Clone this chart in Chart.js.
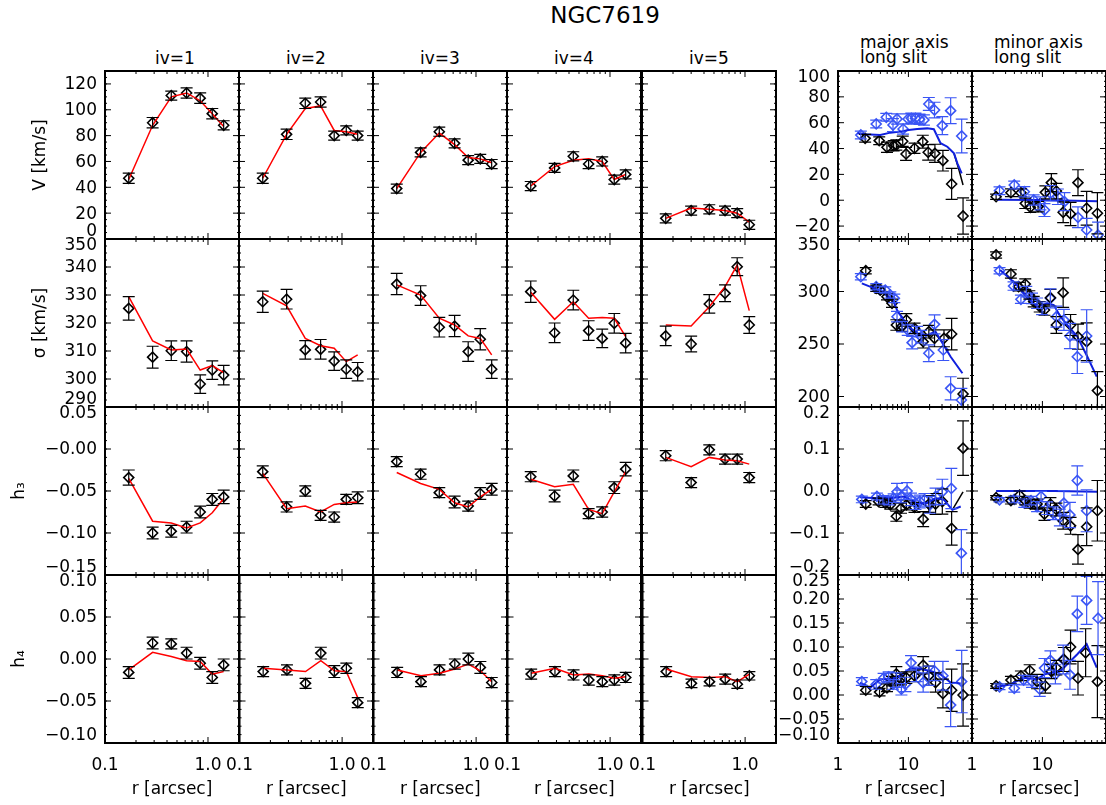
<!DOCTYPE html>
<html lang="en">
<head>
<meta charset="UTF-8">
<title>NGC7619</title>
<script src="https://cdn.jsdelivr.net/npm/chart.js"></script>
<style>
  body { margin: 0; background: #fff; }
  #fig { position: relative; width: 1106px; height: 805px; overflow: hidden;
         font-family: 'DejaVu Sans', sans-serif; color: #000; }
  #fig canvas { position: absolute; }
  .lbl { position: absolute; font-size: 17px; line-height: 17px; white-space: nowrap; }
  .ctr { text-align: center; width: 134px; }
</style>
</head>
<body>
<div id="fig">
  <div class="lbl" style="left:505px; width:200px; top:4px; font-size:23px; line-height:23px; text-align:center;">NGC7619</div>
  <div class="lbl ctr" style="left:108px; top:50px;">iv=1</div>
  <div class="lbl ctr" style="left:239px; top:50px;">iv=2</div>
  <div class="lbl ctr" style="left:373px; top:50px;">iv=3</div>
  <div class="lbl ctr" style="left:507px; top:50px;">iv=4</div>
  <div class="lbl ctr" style="left:642px; top:50px;">iv=5</div>
  <div class="lbl" style="left:860px; top:35px; line-height:15px;">major axis<br>long slit</div>
  <div class="lbl" style="left:994px; top:35px; line-height:15px;">minor axis<br>long slit</div>
</div>

<script>
// ---- integral-field bins (iv=1..5) ----
const rIv = [0.17, 0.29, 0.44, 0.62, 0.84, 1.10, 1.42];
const rIv5 = [0.17, 0.30, 0.45, 0.64, 0.84, 1.10];

const vIvObs = [
  [47, 90, 111, 113, 109, 97, 88],
  [47, 81, 105, 106, 80, 84, 80],
  [39, 67, 83, 74, 61, 62, 58],
  [41, 55, 64, 58, 60, 46, 50],
  [16, 22, 23, 22, 20, 11]
];
const vIvMod = [
  [46, 88, 110, 113, 107, 97, 87],
  [47, 81, 101, 103, 84, 83, 81],
  [39, 67, 82, 73, 63, 62, 59],
  [41, 56, 61, 62, 60, 46, 50],
  [16, 24, 23, 22, 20, 13]
];
const vIvErr = [
  [4, 4, 3.5, 4, 4, 4, 3.5],
  [4, 4, 4, 4, 3.5, 3.5, 3.5],
  [3.5, 3.5, 3.5, 3.5, 3.5, 3.5, 3.5],
  [3.5, 3.5, 3.5, 3.5, 3.5, 3.5, 3.5],
  [3.5, 3.5, 3.5, 3.5, 3.5, 3.5]
];

const sIvObs = [
  [325.2, 307.8, 310.1, 309.8, 298.2, 303.2, 301.4],
  [327.6, 328.5, 310.4, 310.6, 306.4, 303.5, 302.6],
  [333.9, 329.8, 318.5, 318.9, 309.8, 314.2, 303.5],
  [331.2, 316.5, 328.2, 317.3, 314.5, 319.9, 312.8],
  [315.4, 312.5, 326.8, 330.6, 340.1, 319.3]
];
const sIvMod = [
  [329.4, 313.6, 310.4, 310.7, 303.2, 304.8, 302.3],
  [330.6, 326.1, 314.5, 311.9, 311.0, 306.2, 308.6],
  [333.6, 330.0, 321.7, 319.3, 315.4, 314.5, 308.6],
  [331.0, 321.3, 327.6, 321.7, 322.0, 321.7, 315.1],
  [319.3, 318.9, 325.8, 333.0, 340.7, 324.4]
];
const sIvErr = [
  [4.2, 3.9, 3.5, 3.8, 3.3, 3.3, 3.5],
  [3.8, 3.5, 3.3, 3.5, 3.3, 3.3, 3.3],
  [3.8, 3.5, 3.5, 3.8, 3.5, 3.8, 3.3],
  [3.8, 3.5, 3.5, 3.5, 3.3, 3.5, 3.5],
  [3.5, 2.8, 3.3, 3.0, 3.2, 3.0]
];

const h3IvObs = [
  [-0.034, -0.100, -0.098, -0.093, -0.075, -0.060, -0.057],
  [-0.027, -0.069, -0.050, -0.079, -0.081, -0.060, -0.058],
  [-0.015, -0.030, -0.052, -0.063, -0.068, -0.053, -0.048],
  [-0.033, -0.056, -0.032, -0.077, -0.075, -0.046, -0.024],
  [-0.008, -0.040, -0.001, -0.012, -0.012, -0.034]
];
const h3IvMod = [
  [-0.035, -0.086, -0.088, -0.094, -0.088, -0.076, -0.059],
  [-0.029, -0.071, -0.068, -0.075, -0.066, -0.064, -0.063],
  [-0.028, -0.041, -0.048, -0.064, -0.069, -0.057, -0.048],
  [-0.036, -0.045, -0.042, -0.072, -0.077, -0.051, -0.027],
  [-0.010, -0.021, -0.010, -0.013, -0.014, -0.018]
];
const h3IvErr = [
  [0.009, 0.007, 0.007, 0.007, 0.007, 0.007, 0.008],
  [0.007, 0.006, 0.006, 0.006, 0.006, 0.006, 0.007],
  [0.006, 0.006, 0.006, 0.007, 0.006, 0.007, 0.007],
  [0.006, 0.007, 0.007, 0.006, 0.006, 0.007, 0.008],
  [0.006, 0.006, 0.006, 0.006, 0.006, 0.006]
];

const h4IvObs = [
  [-0.016, 0.019, 0.018, 0.007, -0.005, -0.022, -0.007],
  [-0.015, -0.013, -0.029, 0.007, -0.015, -0.011, -0.052],
  [-0.016, -0.027, -0.013, -0.006, 0.000, -0.010, -0.028],
  [-0.018, -0.015, -0.019, -0.025, -0.027, -0.025, -0.022],
  [-0.015, -0.029, -0.027, -0.024, -0.030, -0.020]
];
const h4IvMod = [
  [-0.013, 0.008, 0.003, -0.002, -0.003, -0.018, -0.015],
  [-0.011, -0.013, -0.015, -0.002, -0.014, -0.015, -0.046],
  [-0.013, -0.020, -0.017, -0.012, -0.006, -0.014, -0.027],
  [-0.017, -0.011, -0.019, -0.018, -0.020, -0.023, -0.021],
  [-0.012, -0.021, -0.022, -0.021, -0.027, -0.018]
];
const h4IvErr = [
  [0.007, 0.007, 0.006, 0.007, 0.007, 0.007, 0.007],
  [0.006, 0.006, 0.006, 0.007, 0.007, 0.006, 0.006],
  [0.006, 0.006, 0.006, 0.006, 0.007, 0.007, 0.006],
  [0.006, 0.006, 0.006, 0.006, 0.006, 0.006, 0.006],
  [0.006, 0.005, 0.005, 0.006, 0.005, 0.005]
];

// ---- long slit data: [r, value, error] ; black = one side, blue = other side ----
const majV_black = [[2.43,47.9,3],[3.85,46.1,3],[4.96,41.0,4],[6.17,42.2,4],[6.74,42.7,4],[8.3,45.6,4],[9.26,35.8,5],[12.2,40.2,4],[16.0,45.3,5],[19.1,37.1,6],[23.8,36.3,7],[30.9,30.6,8],[41.1,12.6,12],[59.7,-12.2,14]];
const majV_blue = [[2.11,50.5,3],[3.49,59.0,3],[4.85,64.2,3],[6.04,58.2,5],[6.89,62.9,4],[8.4,55.1,4],[9.9,62.9,4],[11.0,63.4,4],[12.6,63.4,4],[14.4,62.6,4],[16.6,62.1,4],[19.5,74.5,5],[23.5,69.8,6],[30.3,57.7,7],[39.8,69.3,10],[57.1,49.7,13]];
const majV_model = [[1.89,51.8],[2.43,51.0],[3.98,50.5],[5.53,52.3],[7.69,53.1],[10.1,54.3],[13.3,55.1],[18.5,55.6],[23.0,54.9],[28.6,44.1],[35.7,41.4],[44.4,36.3],[49.6,28.6],[57.1,20.8]];
const majV_modelK = [[44.4,36.3],[52.3,23.4],[59.7,11.8]];

const minV_black = [[2.2,2.7,2],[3.57,5.8,3],[4.95,5.8,3],[5.71,-2.4,4],[6.74,-5.5,4],[8.67,-5.0,4],[11.0,6.1,5],[13.4,13.6,7],[15.8,7.1,6],[19.7,-9.3,8],[25.1,-10.6,9],[32.0,13.6,10],[42.5,-6.2,13],[60.4,-10.1,16]];
const minV_blue = [[2.46,7.4,3],[3.98,11.8,3],[5.53,6.6,4],[7.52,0.2,4],[9.36,-2.4,5],[10.7,-7.6,5],[13.0,5.4,6],[16.6,2.7,6],[20.6,-1.1,7],[32.0,-13.2,8],[42.5,-23.0,9],[61.7,-27.0,10]];
const minV_model = [[2.3,0.3],[9.0,0.2],[20.0,-0.2],[60.4,-0.8]];

const majS_black = [[2.48,319.8,3],[3.49,303.0,3],[3.98,301.4,3],[4.96,295.0,3],[5.85,288.8,4],[6.74,268.1,5],[8.13,267.1,5],[9.36,272.9,6],[12.2,264.9,5],[16.2,252.2,6],[19.5,261.7,6],[23.5,255.4,8],[32.0,255.4,8],[41.1,259.5,15],[59.7,202.4,15]];
const majS_blue = [[2.11,314.1,3],[3.49,304.6,3],[3.89,302.1,3],[4.69,301.4,3],[5.53,296.7,3],[6.31,293.5,4],[6.89,276.0,5],[8.13,266.5,5],[9.78,263.3,5],[11.3,251.3,6],[13.3,261.7,5],[15.2,257.0,6],[19.5,241.2,8],[23.5,268.7,9],[31.3,244.3,10],[39.8,207.8,11],[56.5,196.7,11]];
const majS_model = [[2.18,307.8],[3.57,302.1],[4.69,298.3],[6.17,290.3],[6.89,282.4],[8.57,272.9],[10.7,264.9],[14.8,258.6],[18.5,258.6],[24.3,261.7],[28.6,253.8],[39.8,237.9],[58.5,222.1]];

const minS_black = [[2.2,334.8,3],[3.57,316.7,4],[4.59,304.6,4],[5.71,307.1,5],[6.52,296.7,4],[7.52,290.3,5],[9.16,285.5,5],[10.7,282.4,5],[13.0,294.1,8],[15.8,268.1,8],[19.7,298.9,14],[25.1,268.1,10],[32.0,257.0,12],[42.5,252.2,18],[60.4,205.6,18]];
const minS_blue = [[2.46,319.8,3],[3.89,305.2,4],[4.95,292.6,4],[5.9,299.8,5],[7.12,293.5,5],[8.4,288.8,5],[9.9,284.0,6],[13.0,293.5,9],[15.8,276.0,10],[20.2,272.9,10],[24.6,257.6,12],[31.3,237.9,16],[42.5,257.6,25]];
const minS_model = [[2.51,320.5],[4.35,306.2],[6.04,295.0],[8.4,285.5],[11.7,288.8],[14.5,287.1],[18.1,276.0],[22.5,268.1],[31.3,257.0],[43.5,237.9],[59.1,218.9]];

const majH3_black = [[2.48,-0.031,0.008],[3.77,-0.025,0.008],[4.69,-0.029,0.01],[5.53,-0.033,0.01],[6.74,-0.060,0.012],[7.85,-0.041,0.012],[9.36,-0.033,0.012],[12.2,-0.039,0.012],[16.2,-0.067,0.018],[19.5,-0.031,0.02],[24.3,-0.031,0.025],[30.3,-0.025,0.03],[41.1,-0.089,0.04],[59.7,0.102,0.065]];
const majH3_blue = [[2.18,-0.020,0.008],[3.57,-0.013,0.008],[4.35,-0.021,0.01],[5.24,-0.023,0.01],[6.17,-0.017,0.01],[6.89,-0.002,0.02],[7.85,-0.013,0.015],[9.57,0.000,0.02],[10.9,-0.020,0.015],[12.6,-0.029,0.015],[14.5,-0.025,0.015],[16.9,-0.021,0.015],[20.2,-0.033,0.02],[24.3,-0.013,0.02],[30.3,-0.002,0.03],[40.7,0.006,0.048],[56.5,-0.148,0.056]];
const majH3_model = [[2.06,-0.015],[3.57,-0.017],[5.53,-0.017],[8.57,-0.013],[13.3,-0.029],[18.5,-0.029],[24.3,-0.017],[32.0,-0.021],[42.1,-0.045],[55.3,-0.037]];
const majH3_modelK = [[42.1,-0.045],[59.7,-0.002]];

const minH3_black = [[2.2,-0.016,0.005],[3.57,-0.023,0.008],[4.74,-0.010,0.01],[5.71,-0.023,0.01],[6.74,-0.031,0.01],[8.4,-0.031,0.012],[10.7,-0.055,0.015],[13.0,-0.031,0.015],[15.8,-0.044,0.015],[19.7,-0.071,0.02],[25.1,-0.083,0.02],[32.0,-0.139,0.035],[42.5,-0.085,0.045],[60.4,-0.047,0.072]];
const minH3_blue = [[2.46,-0.021,0.005],[3.98,-0.020,0.008],[5.53,-0.029,0.01],[6.89,-0.023,0.01],[8.4,-0.037,0.012],[9.57,-0.013,0.012],[11.7,-0.041,0.015],[14.2,-0.053,0.015],[17.7,-0.063,0.02],[20.2,-0.029,0.03],[24.6,-0.057,0.03],[31.3,0.025,0.035],[42.5,-0.047,0.05]];
const minH3_model = [[2.2,0.000],[15.0,0.000],[60.4,-0.002]];

const majH4_black = [[2.48,0.010,0.008],[3.89,0.006,0.008],[4.96,0.015,0.008],[5.85,0.029,0.01],[6.74,0.044,0.015],[7.85,0.033,0.012],[9.36,0.036,0.012],[12.2,0.040,0.012],[16.2,0.062,0.018],[19.5,0.040,0.02],[24.3,0.026,0.02],[30.9,0.003,0.03],[41.1,0.010,0.044],[59.7,0.000,0.065]];
const majH4_blue = [[2.18,0.028,0.008],[3.49,0.022,0.01],[4.44,0.035,0.01],[5.24,0.038,0.01],[6.04,0.022,0.01],[6.74,0.031,0.015],[7.95,0.012,0.012],[9.06,0.022,0.015],[10.9,0.067,0.015],[13.0,0.043,0.015],[16.2,0.026,0.02],[19.5,0.040,0.02],[23.5,0.050,0.02],[30.9,0.040,0.03],[39.8,-0.021,0.045],[57.1,0.028,0.065]];
const majH4_model = [[2.06,0.026],[2.86,0.015],[3.98,0.033],[5.53,0.033],[7.69,0.040],[10.7,0.056],[14.8,0.054],[20.6,0.050],[28.6,0.043],[39.8,0.026],[55.3,0.024]];

const minH4_black = [[2.2,0.019,0.005],[3.57,0.031,0.008],[4.95,0.040,0.01],[6.59,0.051,0.012],[8.4,0.028,0.015],[11.0,0.019,0.015],[13.4,0.049,0.015],[15.8,0.057,0.015],[20.2,0.074,0.025],[25.1,0.100,0.035],[32.0,0.035,0.035],[41.1,0.088,0.05],[60.4,0.028,0.075]];
const minH4_blue = [[2.46,0.017,0.006],[3.98,0.014,0.008],[5.41,0.031,0.01],[7.12,0.028,0.012],[9.16,0.012,0.015],[10.7,0.056,0.02],[13.0,0.072,0.02],[15.3,0.043,0.02],[19.7,0.074,0.03],[24.6,0.042,0.03],[31.3,0.169,0.037],[42.5,0.197,0.05],[61.7,0.160,0.076]];
const minH4_model = [[2.25,0.017],[3.49,0.022],[5.41,0.036],[8.4,0.033],[10.7,0.043],[13.0,0.046],[18.1,0.050],[22.5,0.064],[31.3,0.085],[42.5,0.106],[59.1,0.057]];

// ---- axes ----
const yTitles = ['V [km/s]', 'σ [km/s]', 'h₃', 'h₄'];
const yRangeIv = [[0, 130], [290, 350], [-0.15, 0.05], [-0.10, 0.10]];
const yTicksIv = [[0, 20, 40, 60, 80, 100, 120], [290, 300, 310, 320, 330, 340, 350], [-0.15, -0.10, -0.05, 0, 0.05], [-0.10, -0.05, 0, 0.05, 0.10]];
const yLabelsIv = [['0', '20', '40', '60', '80', '100', '120'], ['290', '300', '310', '320', '330', '340', '350'],
                   ['−0.15', '−0.10', '−0.05', '−0.00', '0.05'], ['−0.10', '−0.05', '0.00', '0.05', '0.10']];
const yRangeLs = [[-30, 100], [190, 350], [-0.2, 0.2], [-0.10, 0.25]];
const yTicksLs = [[-20, 0, 20, 40, 60, 80, 100], [200, 250, 300, 350], [-0.2, -0.1, 0, 0.1, 0.2], [-0.10, -0.05, 0, 0.05, 0.10, 0.15, 0.20, 0.25]];
const yLabelsLs = [['−20', '0', '20', '40', '60', '80', '100'], ['200', '250', '300', '350'], ['−0.2', '−0.1', '0.0', '0.1', '0.2'],
                   ['−0.10', '−0.05', '0.00', '0.05', '0.10', '0.15', '0.20', '0.25']];
const xRangeIv = [0.1, 2.0];
const xTicksIv = [0.1, 1.0];
const xLabelsIv = ['0.1', '1.0'];
const xMinorIv = [0.2, 0.3, 0.4, 0.5, 0.6, 0.7, 0.8, 0.9, 2.0];
const xRangeLs = [1, 80];
const xTicksLs = [1, 10];
const xLabelsLs = ['1', '10'];
const xMinorLs = [2, 3, 4, 5, 6, 7, 8, 9, 20, 30, 40, 50, 60, 70, 80];

// panel grid
const colX = [105, 239, 373, 507, 642, 838, 972];
const rowY = [71, 239, 407, 575];
const PW = 134, PH = 168;

const RED = '#ff0000', BLK = '#000000', BLUE_PT = '#3a55f5', BLUE_LN = '#1020dd';
const FONT = "17px 'DejaVu Sans', sans-serif";

Chart.defaults.font.family = "'DejaVu Sans', sans-serif";
Chart.defaults.font.size = 17;
Chart.defaults.color = '#000';

const fig = document.getElementById('fig');

// inward ticks on all four sides plus the box, like the IDL plots
function frameTicks(xMaj, xMin, yMaj, ySub, yLab) {
  return {
    id: 'frameTicks',
    afterDraw(chart) {
      const { ctx, chartArea: a, scales: { x, y } } = chart;
      ctx.save();
      ctx.strokeStyle = '#000';
      ctx.lineWidth = 1;
      ctx.beginPath();
      const tx = (v, len) => {
        const p = x.getPixelForValue(v);
        ctx.moveTo(p, a.bottom); ctx.lineTo(p, a.bottom - len);
        ctx.moveTo(p, a.top); ctx.lineTo(p, a.top + len);
      };
      const ty = (v, len) => {
        const p = y.getPixelForValue(v);
        ctx.moveTo(a.left, p); ctx.lineTo(a.left + len, p);
        ctx.moveTo(a.right, p); ctx.lineTo(a.right - len, p);
      };
      xMaj.forEach(v => tx(v, 6));
      xMin.forEach(v => tx(v, 3));
      const step = yMaj[1] - yMaj[0];
      for (let v = yMaj[0] - step; v <= yMaj[yMaj.length - 1] + step; v += step / ySub) {
        if (v >= y.min - 1e-9 && v <= y.max + 1e-9) ty(v, 2);
      }
      yMaj.forEach(v => ty(v, 6));
      ctx.stroke();
      ctx.lineWidth = 2;
      ctx.strokeRect(a.left, a.top, a.width, a.height);

      // y tick labels: IDL nudges the end labels inside the box
      if (yLab) {
        ctx.font = FONT;
        ctx.fillStyle = '#000';
        ctx.textAlign = 'right';
        ctx.textBaseline = 'middle';
        const span = y.max - y.min;
        yMaj.forEach((v, i) => {
          let dy = 1;
          if (Math.abs(v - y.max) < span * 1e-3) dy = 7;
          if (Math.abs(v - y.min) < span * 1e-3) dy = -7;
          ctx.fillText(yLab[i], a.left - 8, y.getPixelForValue(v) + dy);
        });
      }
      ctx.restore();
    }
  };
}

const errorBars = {
  id: 'errorBars',
  afterDatasetsDraw(chart) {
    const { ctx, chartArea: a, scales: { x, y } } = chart;
    ctx.save();
    ctx.beginPath();
    ctx.rect(a.left, a.top, a.width, a.height);
    ctx.clip();
    chart.data.datasets.forEach(ds => {
      if (!ds.errors) return;
      ctx.strokeStyle = ds.borderColor;
      ctx.lineWidth = 1.2;
      ctx.beginPath();
      ds.data.forEach((pt, k) => {
        const px = x.getPixelForValue(pt.x);
        const y1 = y.getPixelForValue(pt.y - ds.errors[k]);
        const y2 = y.getPixelForValue(pt.y + ds.errors[k]);
        ctx.moveTo(px, y1); ctx.lineTo(px, y2);
        ctx.moveTo(px - 6, y1); ctx.lineTo(px + 6, y1);
        ctx.moveTo(px - 6, y2); ctx.lineTo(px + 6, y2);
      });
      ctx.stroke();
    });
    ctx.restore();
  }
};

function obsSet(xs, ys, es, color) {
  return {
    data: xs.map((r, i) => ({ x: r, y: ys[i] })), errors: es,
    borderColor: color, backgroundColor: 'rgba(0,0,0,0)',
    pointStyle: 'rectRot', pointRadius: 5, pointBorderWidth: 1.6, showLine: false, order: 2
  };
}
function lineSet(xs, ys, color, w) {
  return {
    data: xs.map((r, i) => ({ x: r, y: ys[i] })),
    borderColor: color, borderWidth: w, pointRadius: 0, showLine: true, fill: false, order: 1
  };
}
const col = (list, k) => list.map(p => p[k]);
function slitObs(list, color) { return obsSet(col(list, 0), col(list, 1), col(list, 2), color); }
function slitLine(list, color, w) { return lineSet(col(list, 0), col(list, 1), color, w); }

function panel(row, c, datasets) {
  const iv = c < 5;
  const yShow = c === 0 || c === 5;
  const xShow = row === 3;
  const yW = c === 0 ? 105 : (c === 5 ? 62 : 0);
  const xH = xShow ? 62 : 0;
  const pad = { left: yShow ? 0 : 25, right: 25, top: 25, bottom: xShow ? 0 : 25 };
  const cv = document.createElement('canvas');
  cv.width = pad.left + yW + PW + pad.right;
  cv.height = pad.top + PH + xH + pad.bottom;
  cv.style.left = (colX[c] - yW - pad.left) + 'px';
  cv.style.top = (rowY[row] - pad.top) + 'px';
  fig.appendChild(cv);

  const yr = iv ? yRangeIv[row] : yRangeLs[row];
  const yt = iv ? yTicksIv[row] : yTicksLs[row];
  const yl = iv ? yLabelsIv[row] : yLabelsLs[row];
  const xr = iv ? xRangeIv : xRangeLs;
  const xt = iv ? xTicksIv : xTicksLs;
  const xl = iv ? xLabelsIv : xLabelsLs;
  const xm = iv ? xMinorIv : xMinorLs;

  new Chart(cv, {
    type: 'scatter',
    data: { datasets },
    options: {
      responsive: false,
      animation: false,
      layout: { padding: pad },
      plugins: { legend: { display: false }, tooltip: { enabled: false } },
      scales: {
        x: {
          type: 'logarithmic', min: xr[0], max: xr[1], bounds: 'data',
          display: xShow,
          grid: { display: false, drawTicks: false }, border: { display: false },
          afterBuildTicks: s => { s.ticks = xt.map(v => ({ value: v })); },
          afterFit: s => { s.height = xH; },
          ticks: { autoSkip: false, maxRotation: 0, padding: 12, callback: (v, i) => xl[i] },
          title: { display: true, text: 'r [arcsec]', padding: { top: 0, bottom: 5 } }
        },
        y: {
          type: 'linear', min: yr[0], max: yr[1], bounds: 'data',
          display: yShow,
          grid: { display: false, drawTicks: false }, border: { display: false },
          afterBuildTicks: s => { s.ticks = yt.map(v => ({ value: v })); },
          afterFit: s => { s.width = yW; },
          ticks: { display: false },
          title: { display: c === 0, text: yTitles[row], padding: { top: row < 2 ? 30 : 9, bottom: 0 } }
        }
      }
    },
    plugins: [frameTicks(xt, xm, yt, row < 2 && iv ? 4 : 5, yShow ? yl : null), errorBars]
  });
}

// integral-field columns
const ivRows = [[vIvObs, vIvMod, vIvErr], [sIvObs, sIvMod, sIvErr], [h3IvObs, h3IvMod, h3IvErr], [h4IvObs, h4IvMod, h4IvErr]];
ivRows.forEach(([obs, mod, err], row) => {
  for (let c = 0; c < 5; c++) {
    const rr = c < 4 ? rIv : rIv5;
    panel(row, c, [lineSet(rr, mod[c], RED, 1.5), obsSet(rr, obs[c], err[c], BLK)]);
  }
});

// long slit columns
panel(0, 5, [slitLine(majV_model, BLUE_LN, 2), slitLine(majV_modelK, BLK, 1.5), slitObs(majV_black, BLK), slitObs(majV_blue, BLUE_PT)]);
panel(0, 6, [slitLine(minV_model, BLUE_LN, 2), slitObs(minV_black, BLK), slitObs(minV_blue, BLUE_PT)]);
panel(1, 5, [slitLine(majS_model, BLUE_LN, 2), slitObs(majS_black, BLK), slitObs(majS_blue, BLUE_PT)]);
panel(1, 6, [slitLine(minS_model, BLUE_LN, 2), slitObs(minS_black, BLK), slitObs(minS_blue, BLUE_PT)]);
panel(2, 5, [slitLine(majH3_model, BLUE_LN, 2), slitLine(majH3_modelK, BLK, 1.5), slitObs(majH3_black, BLK), slitObs(majH3_blue, BLUE_PT)]);
panel(2, 6, [slitLine(minH3_model, BLUE_LN, 2), slitObs(minH3_black, BLK), slitObs(minH3_blue, BLUE_PT)]);
panel(3, 5, [slitLine(majH4_model, BLUE_LN, 2), slitObs(majH4_black, BLK), slitObs(majH4_blue, BLUE_PT)]);
panel(3, 6, [slitLine(minH4_model, BLUE_LN, 2), slitObs(minH4_black, BLK), slitObs(minH4_blue, BLUE_PT)]);
</script>
</body>
</html>
